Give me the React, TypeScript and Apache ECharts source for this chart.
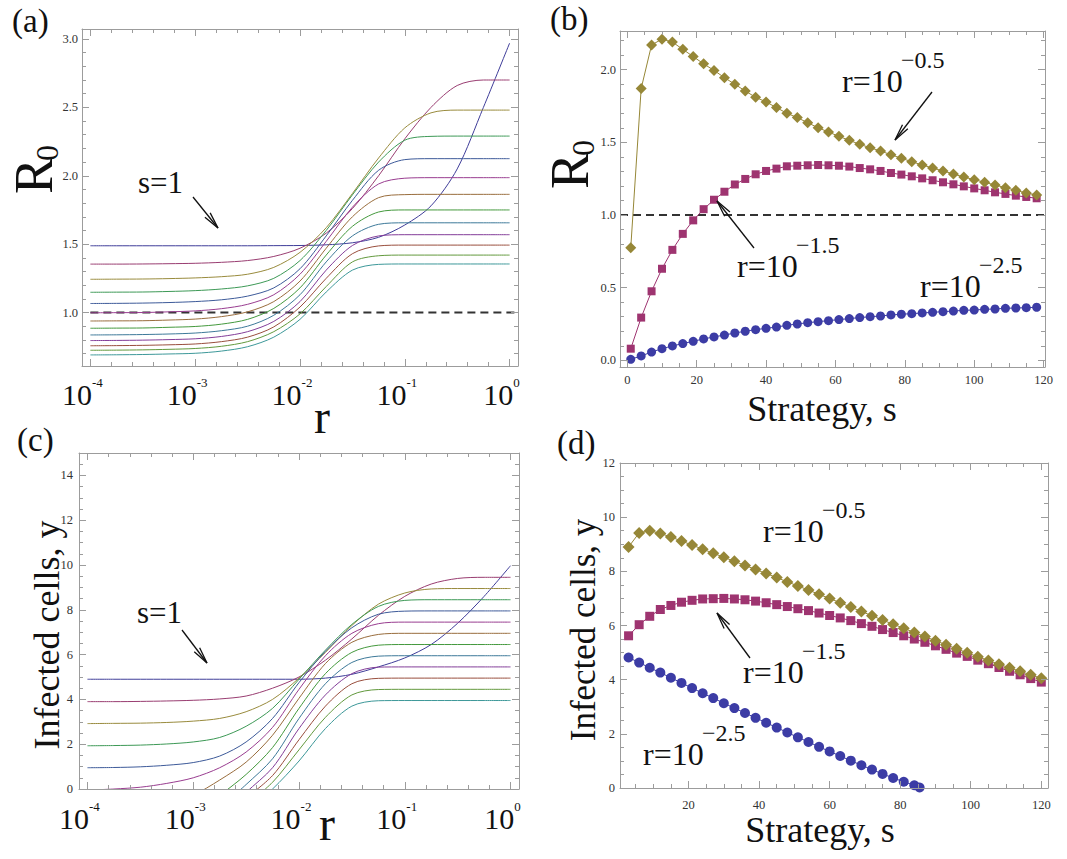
import React, { useEffect, useRef } from 'react';
import * as echarts from 'echarts';

const SERIF = '"Liberation Serif", "Times New Roman", "DejaVu Serif", serif';
const FRAME = '#9c9c9c';
const TICKTXT = '#333333';
const INK = '#111111';

// ---------- panel (a) & (c): x = log10(r) ----------
const LOG_R = [-4, -3.75, -3.5, -3.25, -3, -2.75, -2.5, -2.25, -2, -1.75, -1.5, -1.25, -1, -0.75, -0.5, -0.25, 0];

const R0_S1 = [1.488, 1.488, 1.488, 1.488, 1.488, 1.488, 1.488, 1.489, 1.49, 1.495, 1.51, 1.55, 1.64, 1.78, 2.05, 2.5, 2.97];
const R0_S2 = [1.354, 1.354, 1.355, 1.357, 1.36, 1.367, 1.38, 1.41, 1.47, 1.58, 1.76, 2.0, 2.27, 2.5, 2.66, 2.7, 2.7];
const R0_S3 = [1.243, 1.244, 1.245, 1.248, 1.253, 1.262, 1.28, 1.33, 1.44, 1.62, 1.87, 2.13, 2.35, 2.46, 2.48, 2.48, 2.48];
const R0_S4 = [1.148, 1.149, 1.15, 1.154, 1.16, 1.172, 1.195, 1.25, 1.38, 1.6, 1.86, 2.1, 2.26, 2.288, 2.29, 2.29, 2.29];
const R0_S5 = [1.066, 1.067, 1.069, 1.073, 1.08, 1.093, 1.12, 1.18, 1.32, 1.56, 1.82, 2.04, 2.118, 2.125, 2.125, 2.125, 2.125];
const R0_S6 = [0.998, 0.999, 1.0, 1.005, 1.012, 1.028, 1.06, 1.13, 1.28, 1.52, 1.77, 1.94, 1.982, 1.986, 1.986, 1.986, 1.986];
const R0_S7 = [0.938, 0.939, 0.94, 0.945, 0.952, 0.97, 1.005, 1.08, 1.23, 1.47, 1.7, 1.84, 1.862, 1.864, 1.864, 1.864, 1.864];
const R0_S8 = [0.885, 0.886, 0.887, 0.892, 0.898, 0.915, 0.95, 1.03, 1.18, 1.42, 1.63, 1.735, 1.75, 1.75, 1.75, 1.75, 1.75];
const R0_S9 = [0.836, 0.837, 0.839, 0.843, 0.85, 0.867, 0.9, 0.98, 1.13, 1.37, 1.56, 1.645, 1.656, 1.656, 1.656, 1.656, 1.656];
const R0_S10 = [0.795, 0.796, 0.798, 0.802, 0.808, 0.825, 0.86, 0.935, 1.08, 1.31, 1.49, 1.56, 1.569, 1.569, 1.569, 1.569, 1.569];
const R0_S11 = [0.757, 0.758, 0.76, 0.764, 0.77, 0.787, 0.82, 0.895, 1.04, 1.25, 1.43, 1.487, 1.493, 1.493, 1.493, 1.493, 1.493];
const R0_S12 = [0.724, 0.725, 0.727, 0.731, 0.737, 0.753, 0.787, 0.86, 0.99, 1.19, 1.37, 1.415, 1.42, 1.42, 1.42, 1.42, 1.42];
const R0_S13 = [0.69, 0.691, 0.693, 0.697, 0.702, 0.718, 0.75, 0.82, 0.95, 1.15, 1.31, 1.352, 1.355, 1.355, 1.355, 1.355, 1.355];

const Y_S1 = [4.9, 4.9, 4.9, 4.9, 4.9, 4.9, 4.9, 4.9, 4.9, 4.95, 5.12, 5.45, 5.85, 6.45, 7.4, 8.6, 9.97];
const Y_S2 = [3.9, 3.9, 3.91, 3.93, 3.96, 4.02, 4.15, 4.5, 5.0, 5.75, 6.7, 7.75, 8.6, 9.15, 9.4, 9.45, 9.45];
const Y_S3 = [2.92, 2.93, 2.94, 2.97, 3.03, 3.15, 3.45, 4.0, 4.95, 6.1, 7.3, 8.25, 8.75, 8.93, 8.95, 8.95, 8.95];
const Y_S4 = [1.93, 1.94, 1.96, 2.01, 2.1, 2.3, 2.8, 3.6, 4.9, 6.2, 7.35, 8.15, 8.42, 8.45, 8.45, 8.45, 8.45];
const Y_S5 = [0.95, 0.96, 0.99, 1.06, 1.18, 1.47, 2.1, 3.15, 4.75, 6.15, 7.2, 7.8, 7.94, 7.95, 7.95, 7.95, 7.95];
const Y_S6 = [-0.05, 0.0, 0.08, 0.25, 0.5, 0.95, 1.65, 2.75, 4.45, 5.95, 6.95, 7.38, 7.45, 7.45, 7.45, 7.45, 7.45];
const Y_S7 = [null, null, null, -0.9, -0.3, 0.4, 1.2, 2.4, 4.05, 5.6, 6.55, 6.9, 6.95, 6.95, 6.95, 6.95, 6.95];
const Y_S8 = [null, null, null, null, -1.3, -0.3, 0.65, 1.85, 3.6, 5.15, 6.1, 6.42, 6.45, 6.45, 6.45, 6.45, 6.45];
const Y_S9 = [null, null, null, null, null, -0.85, 0.2, 1.35, 3.15, 4.7, 5.65, 5.93, 5.95, 5.95, 5.95, 5.95, 5.95];
const Y_S10 = [null, null, null, null, null, -1.3, -0.15, 0.95, 2.7, 4.2, 5.15, 5.44, 5.45, 5.45, 5.45, 5.45, 5.45];
const Y_S11 = [null, null, null, null, null, null, -0.4, 0.6, 2.2, 3.7, 4.7, 4.94, 4.95, 4.95, 4.95, 4.95, 4.95];
const Y_S12 = [null, null, null, null, null, null, -0.7, 0.3, 1.75, 3.2, 4.2, 4.44, 4.45, 4.45, 4.45, 4.45, 4.45];
const Y_S13 = [null, null, null, null, null, null, -1.0, 0.0, 1.25, 2.7, 3.7, 3.94, 3.95, 3.95, 3.95, 3.95, 3.95];

const CURVE_COLORS = [
  'rgb(63,61,153)', 'rgb(153,61,113)', 'rgb(153,139,61)', 'rgb(61,153,86)', 'rgb(61,90,153)',
  'rgb(153,61,144)', 'rgb(153,109,61)', 'rgb(68,153,61)', 'rgb(61,121,153)', 'rgb(131,61,153)',
  'rgb(153,78,61)', 'rgb(98,153,61)', 'rgb(61,152,153)',
];

const R_TICKS = [-4, -3, -2, -1, 0];
const R0_TICKS = [1.0, 1.5, 2.0, 2.5, 3.0];
const YC_TICKS = [0, 2, 4, 6, 8, 10, 12, 14];
const THRESHOLD = 1.0;

// ---------- panel (b) ----------
const S_B = [1, 4, 7, 10, 13, 16, 19, 22, 25, 28, 31, 34, 37, 40, 43, 46, 49, 52, 55, 58, 61, 64, 67, 70, 73, 76, 79, 82, 85, 88, 91, 94, 97, 100, 103, 106, 109, 112, 115, 118];
const B_R25 = [0.007, 0.03, 0.057, 0.08, 0.099, 0.115, 0.131, 0.147, 0.161, 0.174, 0.188, 0.2, 0.211, 0.22, 0.229, 0.241, 0.25, 0.259, 0.266, 0.273, 0.28, 0.287, 0.294, 0.3, 0.305, 0.312, 0.317, 0.321, 0.326, 0.33, 0.335, 0.339, 0.344, 0.346, 0.351, 0.353, 0.358, 0.36, 0.362, 0.365];
const B_R15 = [0.08, 0.294, 0.475, 0.63, 0.76, 0.87, 0.963, 1.04, 1.105, 1.16, 1.21, 1.248, 1.28, 1.303, 1.319, 1.335, 1.339, 1.342, 1.344, 1.342, 1.339, 1.333, 1.323, 1.314, 1.303, 1.289, 1.278, 1.266, 1.252, 1.239, 1.225, 1.211, 1.197, 1.183, 1.17, 1.156, 1.145, 1.133, 1.124, 1.115];
const B_R05 = [0.775, 1.87, 2.17, 2.21, 2.19, 2.14, 2.09, 2.04, 1.995, 1.945, 1.9, 1.853, 1.81, 1.778, 1.739, 1.7, 1.67, 1.635, 1.6, 1.571, 1.541, 1.514, 1.486, 1.463, 1.44, 1.415, 1.39, 1.367, 1.344, 1.323, 1.303, 1.282, 1.261, 1.243, 1.225, 1.206, 1.188, 1.17, 1.151, 1.138];
const SB_TICKS = [0, 20, 40, 60, 80, 100, 120];
const RB_TICKS = [0, 0.5, 1.0, 1.5, 2.0];

// ---------- panel (d) ----------
const S_D = [3, 6, 9, 12, 15, 18, 21, 24, 27, 30, 33, 36, 39, 42, 45, 48, 51, 54, 57, 60, 63, 66, 69, 72, 75, 78, 81, 84, 87, 90, 93, 96, 99, 102, 105, 108, 111, 114, 117, 120];
const S_D_LOW = [3, 6, 9, 12, 15, 18, 21, 24, 27, 30, 33, 36, 39, 42, 45, 48, 51, 54, 57, 60, 63, 66, 69, 72, 75, 78, 81, 84, 85.5];
const D_R25 = [4.82, 4.63, 4.44, 4.26, 4.07, 3.88, 3.69, 3.5, 3.32, 3.13, 2.95, 2.77, 2.59, 2.41, 2.23, 2.05, 1.87, 1.7, 1.52, 1.35, 1.18, 1.01, 0.84, 0.68, 0.52, 0.37, 0.23, 0.1, 0.02];
const D_R15 = [5.62, 6.03, 6.34, 6.59, 6.74, 6.86, 6.93, 6.98, 6.99, 7.0, 6.98, 6.95, 6.9, 6.84, 6.77, 6.7, 6.62, 6.55, 6.46, 6.37, 6.28, 6.18, 6.07, 5.97, 5.85, 5.74, 5.62, 5.5, 5.38, 5.25, 5.12, 4.98, 4.86, 4.72, 4.59, 4.45, 4.31, 4.18, 4.04, 3.91];
const D_R05 = [8.9, 9.42, 9.5, 9.4, 9.27, 9.12, 8.97, 8.82, 8.67, 8.52, 8.37, 8.22, 8.07, 7.92, 7.77, 7.61, 7.46, 7.31, 7.15, 7.0, 6.84, 6.68, 6.52, 6.36, 6.2, 6.05, 5.9, 5.74, 5.59, 5.44, 5.29, 5.14, 4.99, 4.85, 4.71, 4.57, 4.44, 4.31, 4.18, 4.05];
const SD_TICKS = [20, 40, 60, 80, 100, 120];
const YD_TICKS = [0, 2, 4, 6, 8, 10, 12];

const C_BLUE = 'rgb(60,60,165)';
const C_MAG = 'rgb(158,52,112)';
const C_OLIVE = 'rgb(150,135,55)';

// ---------- helpers ----------
const steps = (a: number, b: number, step: number, majors: number[]) => {
  const out: number[] = [];
  for (let i = 0; a + i * step <= b + 1e-9; i++) {
    const v = +(a + i * step).toFixed(4);
    if (!majors.some((m) => Math.abs(m - v) < 1e-6)) out.push(v);
  }
  return out;
};
const zip = (xs: number[], ys: (number | null)[]) =>
  xs.map((x, i) => [x, ys[i]]).filter((p) => p[1] !== null && p[1] !== undefined);

function frame(gridIndex: number, dim: 'x' | 'y', min: number, max: number, majors: number[], minors: number[], label: any) {
  const sides = dim === 'x' ? ['bottom', 'top'] : ['left', 'right'];
  const out: any[] = [];
  sides.forEach((pos, si) => {
    const common = { type: 'value', gridIndex, min, max, position: pos, splitLine: { show: false }, silent: true, z: 5 };
    out.push({
      ...common,
      axisLine: { show: true, onZero: false, lineStyle: { color: FRAME, width: 1 } },
      axisTick: { show: true, inside: true, length: 7, customValues: majors, lineStyle: { color: FRAME, width: 1 } },
      axisLabel: si === 0 ? { ...label, customValues: majors } : { show: false },
    });
    out.push({
      ...common,
      axisLine: { show: false, onZero: false },
      axisTick: { show: true, inside: true, length: 4, customValues: minors, lineStyle: { color: FRAME, width: 1 } },
      axisLabel: { show: false },
    });
  });
  return out;
}

const smallLabel = (fmt: (v: number) => string, margin: number) => ({
  show: true, fontFamily: SERIF, fontSize: 12.5, color: TICKTXT, margin, formatter: fmt,
});
const powLabel = (margin: number) => ({
  show: true,
  margin,
  padding: [0, 16, 0, 0],
  formatter: (v: number) => `{b|10}{s|${Math.round(v) === 0 ? '0' : String(Math.round(v))}}`,
  rich: {
    b: { fontFamily: SERIF, fontSize: 30, color: INK, lineHeight: 36 },
    s: { fontFamily: SERIF, fontSize: 13, color: INK, verticalAlign: 'top', lineHeight: 14 },
  },
});

const R_MIN = -4.08, R_MAX = 0.08;
const A_YMIN = 0.609, A_YMAX = 3.073;
const B_XMIN = -2.1, B_XMAX = 120.4, B_YMIN = -0.046, B_YMAX = 2.266;
const D_XMIN = 0.57, D_XMAX = 121.9;

function text(t: string, x: number, y: number, size: number, extra: any = {}) {
  return { type: 'text', x, y, z: 100, silent: true, style: { text: t, fontFamily: SERIF, fontSize: size, fill: INK, align: 'left', verticalAlign: 'middle', ...extra } };
}
function vtext(t: string, x: number, y: number, size: number, extra: any = {}) {
  return { type: 'text', x, y, rotation: Math.PI / 2, z: 100, silent: true, style: { text: t, fontFamily: SERIF, fontSize: size, fill: INK, align: 'center', verticalAlign: 'middle', ...extra } };
}
// rotated R with a lowered, smaller 0 (subscript)
function r0Title(x: number, y: number) {
  return [vtext('R', x, y, 54), vtext('0', x + 13, y - 23, 32)];
}
function arrow(x1: number, y1: number, x2: number, y2: number) {
  const a = Math.atan2(y2 - y1, x2 - x1);
  const L = 17, phi = 0.2;
  const b1 = [x2 - L * Math.cos(a - phi), y2 - L * Math.sin(a - phi)];
  const b2 = [x2 - L * Math.cos(a + phi), y2 - L * Math.sin(a + phi)];
  return [
    { type: 'line', z: 100, silent: true, shape: { x1, y1, x2, y2 }, style: { stroke: INK, lineWidth: 1.3 } },
    { type: 'polyline', z: 100, silent: true, shape: { points: [b1, [x2, y2], b2] }, style: { stroke: INK, lineWidth: 1.3, fill: null } },
  ];
}
function rlabel(x: number, y: number, exp: string) {
  return [text('r=10', x, y, 32), text(exp, x + 59, y - 21, 24)];
}

function buildOption() {
  const grids = [
    { left: 82, top: 29, width: 436, height: 337 },
    { left: 620, top: 31, width: 425, height: 336 },
    { left: 79, top: 453, width: 440, height: 336 },
    { left: 620, top: 463, width: 428, height: 325 },
  ];

  const xAxis = [
    ...frame(0, 'x', R_MIN, R_MAX, R_TICKS, steps(-4, 0, 0.2, R_TICKS), powLabel(10)),
    ...frame(1, 'x', B_XMIN, B_XMAX, SB_TICKS, steps(0, 120, 5, SB_TICKS), smallLabel((v) => String(v), 6)),
    ...frame(2, 'x', R_MIN, R_MAX, R_TICKS, steps(-4, 0, 0.2, R_TICKS), powLabel(11)),
    ...frame(3, 'x', D_XMIN, D_XMAX, SD_TICKS, steps(5, 120, 5, SD_TICKS), smallLabel((v) => String(v), 10)),
  ];
  const yAxis = [
    ...frame(0, 'y', A_YMIN, A_YMAX, R0_TICKS, steps(0.7, 3.0, 0.1, R0_TICKS), smallLabel((v) => v.toFixed(1), 4)),
    ...frame(1, 'y', B_YMIN, B_YMAX, RB_TICKS, steps(0.1, 2.2, 0.1, RB_TICKS), smallLabel((v) => v.toFixed(1), 4)),
    ...frame(2, 'y', 0, 15, YC_TICKS, steps(0.5, 14.5, 0.5, YC_TICKS), smallLabel((v) => String(v), 6)),
    ...frame(3, 'y', 0, 12, YD_TICKS, steps(0.5, 11.5, 0.5, YD_TICKS), smallLabel((v) => String(v), 5)),
  ];

  const R0_SETS = [R0_S1, R0_S2, R0_S3, R0_S4, R0_S5, R0_S6, R0_S7, R0_S8, R0_S9, R0_S10, R0_S11, R0_S12, R0_S13];
  const Y_SETS = [Y_S1, Y_S2, Y_S3, Y_S4, Y_S5, Y_S6, Y_S7, Y_S8, Y_S9, Y_S10, Y_S11, Y_S12, Y_S13];

  const curve = (axis: number, data: any[], color: string, name: string) => ({
    type: 'line', name, xAxisIndex: axis, yAxisIndex: axis, data,
    smooth: 0.3, showSymbol: false, silent: true, clip: true,
    lineStyle: { width: 1, color }, itemStyle: { color },
  });
  const dashed = (axis: number, x0: number, x1: number) => ({
    type: 'line', xAxisIndex: axis, yAxisIndex: axis, data: [[x0, THRESHOLD], [x1, THRESHOLD]],
    showSymbol: false, silent: true, lineStyle: { width: 1.8, color: '#333', type: [8, 5] }, z: 3,
  });
  const pts = (axis: number, xs: number[], ys: number[], color: string, symbol: string, size: number, name: string) => ({
    type: 'line', name, xAxisIndex: axis, yAxisIndex: axis, data: zip(xs, ys),
    symbol, symbolSize: size, showSymbol: true, silent: true,
    lineStyle: { width: 1, color }, itemStyle: { color },
  });

  const series: any[] = [
    dashed(0, LOG_R[0], R_MAX),
    ...R0_SETS.map((ys, i) => curve(0, zip(LOG_R, ys), CURVE_COLORS[i], `R0 s${i + 1}`)),
    ...Y_SETS.map((ys, i) => curve(8, zip(LOG_R, ys), CURVE_COLORS[i], `y s${i + 1}`)),
    dashed(4, B_XMIN, B_XMAX),
    pts(4, S_B, B_R25, C_BLUE, 'circle', 9, 'r=10^-2.5'),
    pts(4, S_B, B_R15, C_MAG, 'rect', 8, 'r=10^-1.5'),
    pts(4, S_B, B_R05, C_OLIVE, 'diamond', 11, 'r=10^-0.5'),
    pts(12, S_D_LOW, D_R25, C_BLUE, 'circle', 10, 'r=10^-2.5'),
    pts(12, S_D, D_R15, C_MAG, 'rect', 9, 'r=10^-1.5'),
    pts(12, S_D, D_R05, C_OLIVE, 'diamond', 12, 'r=10^-0.5'),
  ];

  const graphic: any[] = [
    text('(a)', 12, 21, 33),
    text('(b)', 550, 19, 33),
    text('(c)', 17, 440, 33),
    text('(d)', 557, 443, 33),
    ...r0Title(34, 176),
    ...r0Title(570, 171),
    vtext('Infected cells, y', 47, 635, 36),
    vtext('Infected cells, y', 583, 630, 35),
    text('r', 322, 416, 48, { align: 'center' }),
    text('r', 327, 823, 48, { align: 'center' }),
    text('Strategy, s', 822, 409, 36, { align: 'center' }),
    text('Strategy, s', 820, 830, 36, { align: 'center' }),
    text('s=1', 138, 182, 31),
    text('s=1', 137, 612, 31),
    ...arrow(193, 197, 218, 228),
    ...arrow(182, 630, 207, 663),
    ...rlabel(842, 81, '\u22120.5'),
    ...rlabel(737, 266, '\u22121.5'),
    ...rlabel(920, 286, '\u22122.5'),
    ...arrow(932, 92, 895, 140),
    ...arrow(754, 248, 717, 201),
    ...rlabel(763, 531, '\u22120.5'),
    ...rlabel(743, 672, '\u22121.5'),
    ...rlabel(643, 754, '\u22122.5'),
    ...arrow(750, 658, 717, 613),
  ];

  return {
    animation: false,
    backgroundColor: '#ffffff',
    textStyle: { fontFamily: SERIF },
    grid: grids,
    xAxis,
    yAxis,
    series,
    graphic,
  };
}

export default function App() {
  const ref = useRef<HTMLDivElement>(null);
  useEffect(() => {
    if (!ref.current) return;
    const chart = echarts.init(ref.current, undefined, { renderer: 'svg' });
    chart.setOption(buildOption() as any);
    return () => chart.dispose();
  }, []);
  return (
    <div
      ref={ref}
      style={{ position: 'fixed', left: 0, top: 0, width: 1067, height: 859, background: '#ffffff' }}
    />
  );
}
